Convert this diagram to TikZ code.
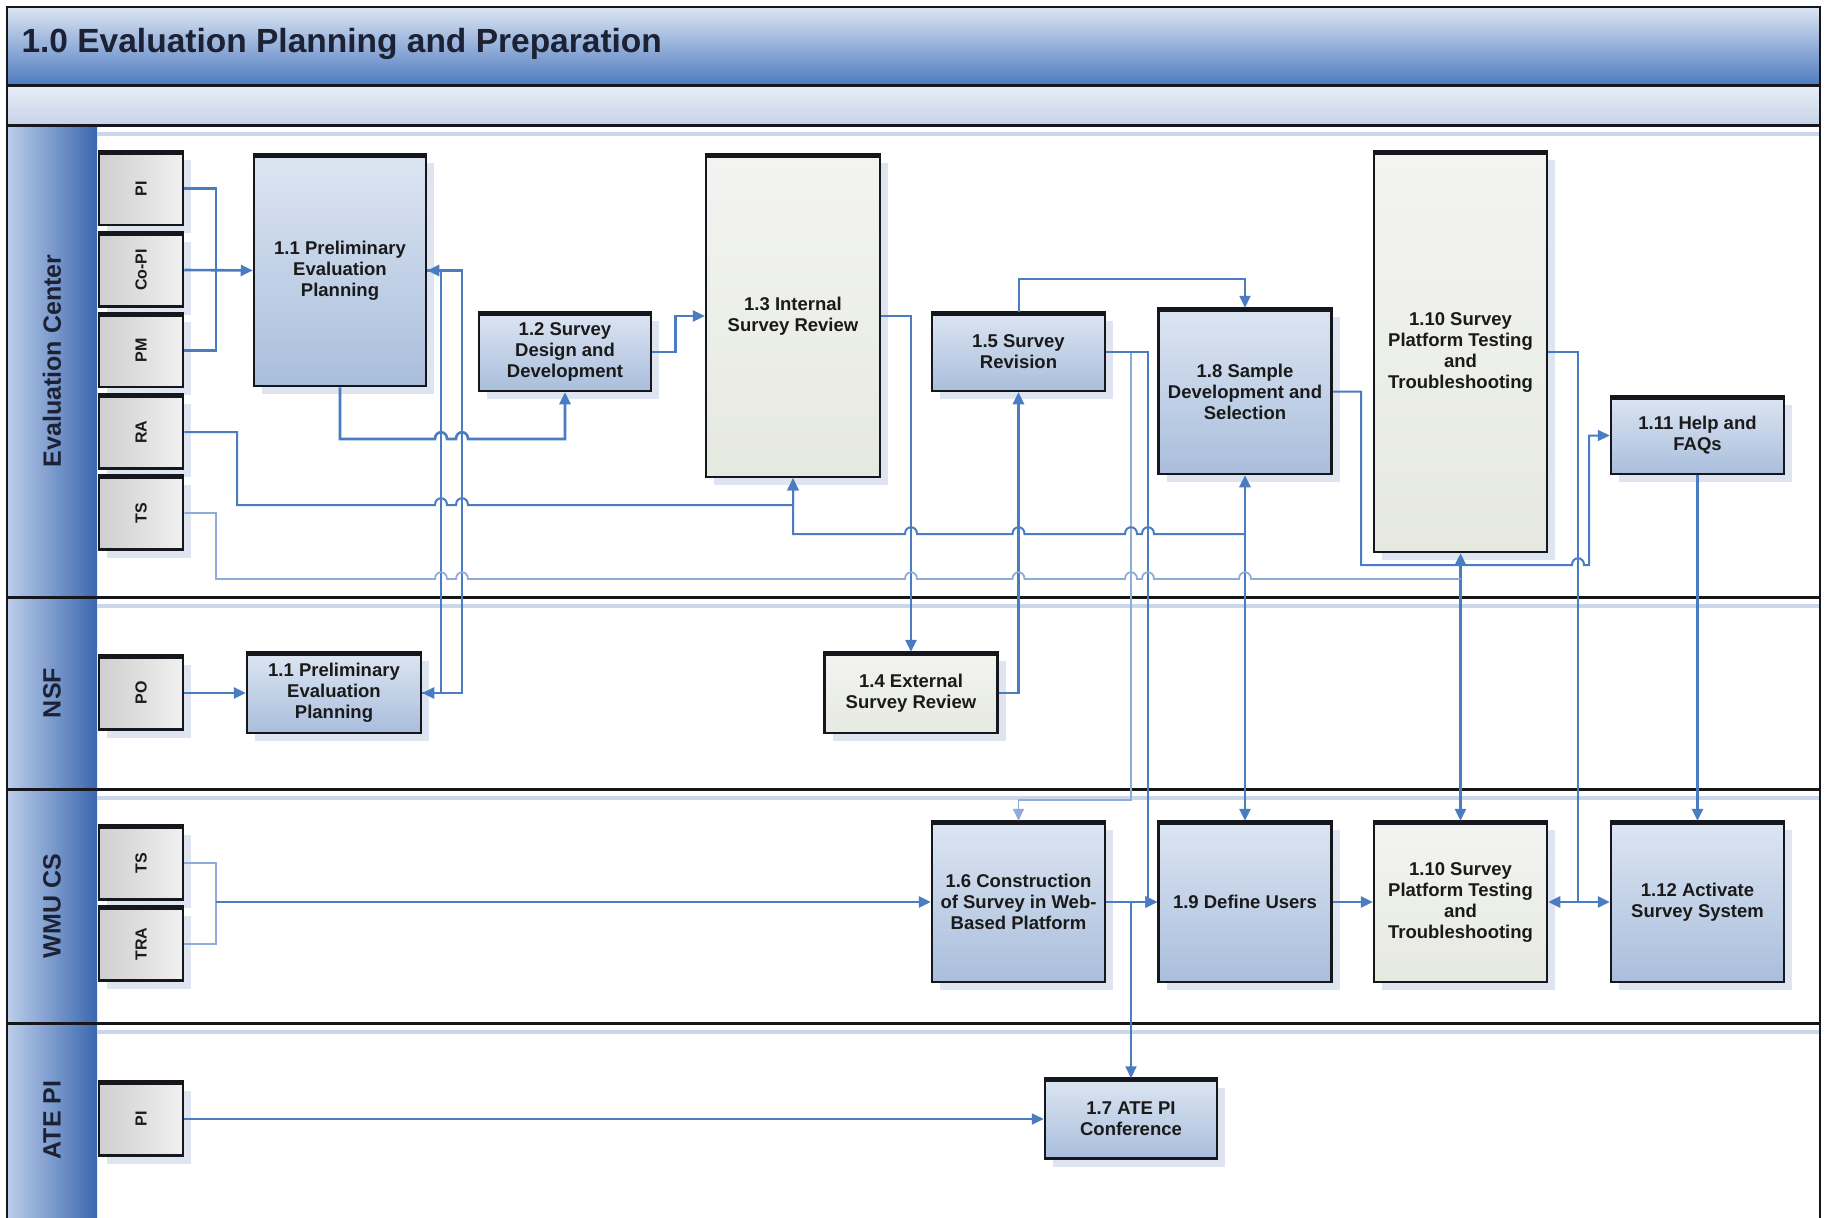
\documentclass[tikz,border=0pt]{standalone}
\usepackage{fontspec}
\setmainfont{Liberation Sans}
\usepackage{graphicx}
\usetikzlibrary{arrows.meta,shadows}

\definecolor{flowblue}{HTML}{4A7CC2}
\definecolor{flowpale}{HTML}{8EABD9}
\definecolor{titletop}{HTML}{DCE5F3}
\definecolor{titlebot}{HTML}{4E7BC0}
\definecolor{subtop}{HTML}{E9EEF6}
\definecolor{subbot}{HTML}{C6D3E8}
\definecolor{hdrL}{HTML}{BCCEEA}
\definecolor{hdrM}{HTML}{6E95D0}
\definecolor{hdrR}{HTML}{3A67B0}
\definecolor{rulecol}{HTML}{15171C}
\definecolor{laneline}{HTML}{C9D6EB}
\definecolor{procT}{HTML}{DCE5F2}
\definecolor{procB}{HTML}{A9BEDC}
\definecolor{paleT}{HTML}{F3F4F2}
\definecolor{paleB}{HTML}{E6E9E0}
\definecolor{roleL}{HTML}{CFCFCF}
\definecolor{roleR}{HTML}{F0F0F0}
\definecolor{shadowcol}{HTML}{DEE5F0}
\definecolor{inkcol}{HTML}{1A1A1A}
\definecolor{lanetext}{HTML}{1C2233}

\newcommand\procfnt{\fontsize{18.5}{21}\selectfont\bfseries}
\newcommand\rolefnt{\fontsize{16}{18}\selectfont\bfseries}
\newcommand\lanefnt{\fontsize{25}{28}\selectfont\bfseries}
\newcommand\headfnt{\fontsize{33.5}{36}\selectfont\bfseries}

\tikzset{
  >={Triangle[length=12pt,width=11pt]},
  boxshadow/.style={drop shadow={shadow xshift=8pt,shadow yshift=-8pt,fill=shadowcol,opacity=1}},
  proc/.style={draw=rulecol,line width=2.5pt,top color=procT,bottom color=procB,
    align=center,font=\procfnt,text=inkcol,inner sep=2pt,boxshadow},
  procpale/.style={proc,top color=paleT,bottom color=paleB},
  bx/.style 2 args={minimum width=#1pt,minimum height=#2pt},
  role/.style={draw=rulecol,line width=2.5pt,left color=roleL,right color=roleR,
    minimum width=84pt,minimum height=73pt,inner sep=0pt,font=\rolefnt,text=inkcol,boxshadow},
  lanelabel/.style={rotate=90,font=\lanefnt,text=lanetext},
  flow/.style={draw=flowblue,line width=2.6pt},
  thinflow/.style={draw=flowpale,line width=1.8pt},
  medflow/.style={draw=flowblue,line width=2pt},
  topedge/.style={draw=rulecol,line width=5pt},
  hopR/.style 2 args={insert path={-- (#1-6,#2) .. controls (#1-6,#2-9) and (#1+6,#2-9) .. (#1+6,#2)}},
  hopL/.style 2 args={insert path={-- (#1+6,#2) .. controls (#1+6,#2-9) and (#1-6,#2-9) .. (#1-6,#2)}},
}

\begin{document}
\begin{tikzpicture}[x=1pt,y=-1pt]
\useasboundingbox (0,0) rectangle (1829,1218);
\begin{scope}
\clip (0,0) rectangle (1829,1218);
\fill[white] (0,0) rectangle (1829,1218);

% title bar and sub band
\shade[top color=titletop,bottom color=titlebot] (7,7) rectangle (1820,85);
\shade[top color=subtop,bottom color=subbot] (7,85) rectangle (1820,125);

% lane headers
\shade[left color=hdrL,middle color=hdrM,right color=hdrR] (7,125) rectangle (97,597);
\shade[left color=hdrL,middle color=hdrM,right color=hdrR] (7,597) rectangle (97,789);
\shade[left color=hdrL,middle color=hdrM,right color=hdrR] (7,789) rectangle (97,1023);
\shade[left color=hdrL,middle color=hdrM,right color=hdrR] (7,1023) rectangle (97,1240);

% pale guide lines under each lane boundary
\foreach \yy in {134,606,798,1032}
  \draw[laneline,line width=3.5pt] (97,\yy) -- (1820,\yy);

% lane boundaries and frame
\draw[rulecol,line width=3pt] (7,85) -- (1820,85);
\draw[rulecol,line width=3pt] (7,125) -- (1820,125);
\foreach \yy in {597,789,1023}
  \draw[rulecol,line width=3pt] (7,\yy) -- (1820,\yy);
\draw[rulecol,line width=2.5pt] (7,1240) -- (7,7) -- (1820,7) -- (1820,1240);

% title and lane names
\node[anchor=west,font=\headfnt,text=lanetext] (title) at (18,44) {1.0 Evaluation Planning and Preparation};
\node[lanelabel] (lEC) at (52,361) {Evaluation Center};
\node[lanelabel] (lNSF) at (52,693) {NSF};
\node[lanelabel] (lWMU) at (52,906) {WMU CS};
\node[lanelabel] (lATE) at (52,1120) {ATE PI};

% roles
\node[role] (PIec) at (141,188.5) {\rotatebox{90}{PI}};
\node[role] (CoPI) at (141,270) {\rotatebox{90}{Co-PI}};
\node[role] (PM)   at (141,350.5) {\rotatebox{90}{PM}};
\node[role] (RA)   at (141,432) {\rotatebox{90}{RA}};
\node[role] (TSec) at (141,513) {\rotatebox{90}{TS}};
\node[role] (PO)   at (141,693) {\rotatebox{90}{PO}};
\node[role] (TSw)  at (141,863) {\rotatebox{90}{TS}};
\node[role] (TRA)  at (141,944) {\rotatebox{90}{TRA}};
\node[role] (PIate) at (141,1119) {\rotatebox{90}{PI}};

% activities
\node[proc,bx={172}{231}] (p11) at (340,270.5) {1.1 Preliminary\\Evaluation\\Planning};
\node[proc,bx={172}{78}] (p12) at (565,352) {1.2 Survey\\Design and\\Development};
\node[procpale,bx={174}{322}] (p13) at (793,316) {1.3 Internal\\Survey Review};
\node[proc,bx={173}{78}] (p15) at (1018.5,352) {1.5 Survey\\Revision};
\node[proc,bx={173}{165}] (p18) at (1245,391.5) {1.8 Sample\\Development and\\Selection};
\node[procpale,bx={173}{400}] (p110a) at (1460.5,352) {1.10 Survey\\Platform Testing\\and\\Troubleshooting};
\node[proc,bx={173}{77}] (p111) at (1697.5,435.5) {1.11 Help and\\FAQs};
\node[proc,bx={174}{80}] (p11n) at (334,693) {1.1 Preliminary\\Evaluation\\Planning};
\node[procpale,bx={173}{80}] (p14) at (911,693) {1.4 External\\Survey Review};
\node[proc,bx={173}{160}] (p16) at (1018.5,902) {1.6 Construction\\of Survey in Web-\\Based Platform};
\node[proc,bx={173}{160}] (p19) at (1245,902) {1.9 Define Users};
\node[procpale,bx={173}{160}] (p110b) at (1460.5,902) {1.10 Survey\\Platform Testing\\and\\Troubleshooting};
\node[proc,bx={173}{160}] (p112) at (1697.5,902) {1.12 Activate\\Survey System};
\node[proc,bx={172}{79}] (p17) at (1131,1119) {1.7 ATE PI\\Conference};

% heavier top edges
\foreach \n in {PIec,CoPI,PM,RA,TSec,PO,TSw,TRA,PIate,p11,p12,p13,p15,p18,p110a,p111,p11n,p14,p16,p19,p110b,p112,p17}
  \draw[topedge] ([yshift=-1.25pt]\n.north west) -- ([yshift=-1.25pt]\n.north east);

% junction points
\coordinate (j83) at (1245,534);
\coordinate (j10) at (1460.5,579);
\coordinate (j67) at (1131,902);
\coordinate (jw) at (216,902);

% evaluation center roles into 1.1
\draw[flow] (PIec.east) -- (216,188.5) -- (216,350.5) -- (PM.east);
\draw[flow,->] (CoPI.east) -- (p11.west);

% 1.1 <-> NSF 1.1
\draw[flow,->] (p11n.east) -| (441,270.5) -- (p11.east);
\draw[flow,->] (p11.east) -| (462,693) -- (p11n.east);
\draw[flow,->] (PO.east) -- (p11n.west);

% main sequence
\draw[flow,->] (p11.south) -- (340,439) [hopR={441}{439}] [hopR={462}{439}] -- (565,439) -- (p12.south);
\draw[flow,->] (p12.east) -- ++(23,0) |- (p13.west);
\draw[flow,->] (p13.east) -| (p14.north);
\draw[flow,->] (p14.east) -| (p15.south);
\draw[medflow,->] (p15.north) -- ++(0,-33) -| (p18.north);
\draw[thinflow,->] (p15.east) -- (1131,352) -- (1131,800) -- (1018.5,800) -- (p16.north);
\draw[flow,->] (p15.east) -- (1148,352) -- (1148,902) -- (p19.west);
\draw[flow,->] (p16.east) -- (p19.west);
\draw[medflow,->] (j67) -- (p17.north);
\draw[flow,<->] (p18.south) -- (p19.north);
\draw[flow,->] (p19.east) -- (p110b.west);
\draw[flow,<->] (p110a.south) -- (p110b.north);
\draw[flow,<->] (p110b.east) -- (p112.west);
\draw[medflow] (p110a.east) -- (1578,352) -- (1578,902);
\draw[flow,->] (p111.south) -- (p112.north);

% review feedback into 1.3
\draw[medflow,->] (RA.east) -- (237,432) -- (237,505) [hopR={441}{505}] [hopR={462}{505}] -- (793,505) -- (p13.south);
\draw[medflow,->] (j83) [hopL={1148}{534}] [hopL={1131}{534}] [hopL={1018.5}{534}] [hopL={911}{534}] -- (793,534) -- (p13.south);

% technical support line into 1.10
\draw[thinflow] (TSec.east) -- (216,513) -- (216,579) [hopR={441}{579}] [hopR={462}{579}] [hopR={911}{579}] [hopR={1018.5}{579}] [hopR={1131}{579}] [hopR={1148}{579}] [hopR={1245}{579}] -- (j10);

% sample into help and FAQs
\draw[medflow,->] (p18.east) -- (1361,391.5) -- (1361,565) [hopR={1578}{565}] -- (1589,565) -- (1589,435.5) -- (p111.west);

% WMU CS roles
\draw[thinflow] (TSw.east) -- (216,863) -- (216,944) -- (TRA.east);
\draw[flow,->] (jw) -- (p16.west);

% ATE PI
\draw[medflow,->] (PIate.east) -- (p17.west);
\end{scope}
\end{tikzpicture}
\end{document}
